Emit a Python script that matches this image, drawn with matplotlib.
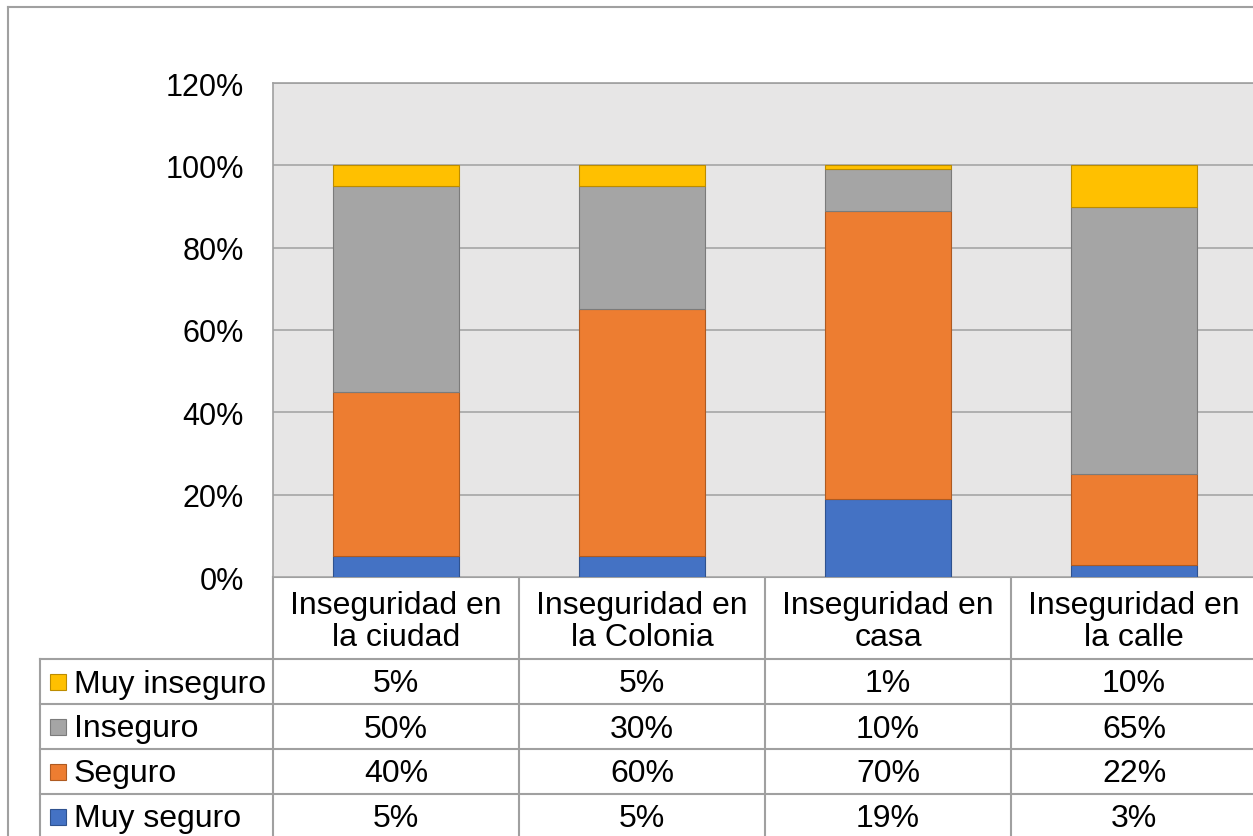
import matplotlib.pyplot as plt
import numpy as np

plt.rcParams['font.family'] = ['Liberation Sans', 'DejaVu Sans']

# = = = data = = =
categorias = ['Inseguridad en\nla ciudad', 'Inseguridad en\nla Colonia',
              'Inseguridad en\ncasa', 'Inseguridad en\nla calle']
muy_seguro = [5, 5, 19, 3]
seguro = [40, 60, 70, 22]
inseguro = [50, 30, 10, 65]
muy_inseguro = [5, 5, 1, 10]

series_names = ['Muy seguro', 'Seguro', 'Inseguro', 'Muy inseguro']
colores = ['#4472C4', '#ED7D31', '#A5A5A5', '#FFC000']
bordes = ['#2F528F', '#AE5A21', '#7B7B7B', '#BC8C00']
y_ticks = [0, 20, 40, 60, 80, 100, 120]

# = = = figure = = =
W, H = 1253, 837
fig = plt.figure(figsize=(W / 100, H / 100), dpi=100)

def px(x0, y0, x1, y1):
    # pixel box -> figure fraction rect
    return [x0 / W, 1 - y1 / H, (x1 - x0) / W, (y1 - y0) / H]

ax = fig.add_axes(px(273, 84, 1257, 578))
ax.set_facecolor('#E7E6E6')

series = [muy_seguro, seguro, inseguro, muy_inseguro]
x = np.arange(len(categorias))
bottom = np.zeros(len(categorias))
for vals, name, c, ec in zip(series, series_names, colores, bordes):
    ax.bar(x, vals, width=0.512, bottom=bottom, color=c, edgecolor=ec,
           linewidth=0.8, label=name, zorder=3)
    bottom += np.array(vals)

ax.set_xlim(-0.5, len(categorias) - 0.5)
ax.set_ylim(0, 120)
ax.set_yticks(y_ticks)
ax.set_yticklabels([f'{v}%' for v in y_ticks], fontsize=22)
ax.set_xticks([])
ax.tick_params(axis='y', length=0, pad=21)
ax.grid(axis='y', color='#A6A6A6', linewidth=1.2, zorder=0)
for s in ['right', 'bottom']:
    ax.spines[s].set_visible(False)
for s in ['top', 'left']:
    ax.spines[s].set_color('#A0A0A0')
    ax.spines[s].set_linewidth(1.2)

# = = = data table drawn under the axes = = =
ov = fig.add_axes([0, 0, 1, 1], zorder=-1)
ov.set_xlim(0, W)
ov.set_ylim(H, 0)
ov.axis('off')
lc = '#A0A0A0'
fs = 23

# outer chart border
ov.plot([8, W + 5], [8, 8], color=lc, lw=1.5)
ov.plot([8, 8], [8, H + 5], color=lc, lw=1.5)

col_w = 246
col_x = [273 + i * col_w for i in range(len(categorias) + 1)]
row_y = [578, 660, 705, 750, 795, 840]

# horizontal lines
ov.plot([273, W + 5], [578, 578], color=lc, lw=1.5)
for yy in row_y[1:-1]:
    ov.plot([40, W + 5], [yy, yy], color=lc, lw=1.5)
# vertical lines
for xx in col_x[:-1]:
    ov.plot([xx, xx], [578, H + 5], color=lc, lw=1.5)
ov.plot([40, 40], [660, H + 5], color=lc, lw=1.5)

# header texts
for i, cat in enumerate(categorias):
    ov.text(col_x[i] + col_w / 2, 622, cat, ha='center', va='center',
            fontsize=fs, linespacing=1.1)

# rows (top row = Muy inseguro)
for r, idx in enumerate([3, 2, 1, 0]):
    yc = (row_y[r + 1] + row_y[r + 2]) / 2
    ov.add_patch(plt.Rectangle((50, yc - 8), 16, 16, facecolor=colores[idx],
                               edgecolor=bordes[idx], lw=0.8))
    ov.text(74, yc + 2, series_names[idx], ha='left', va='center', fontsize=fs)
    for i in range(len(categorias)):
        ov.text(col_x[i] + col_w / 2, yc + 2, f'{series[idx][i]}%',
                ha='center', va='center', fontsize=fs)

fig.savefig('out.png', dpi=100)
